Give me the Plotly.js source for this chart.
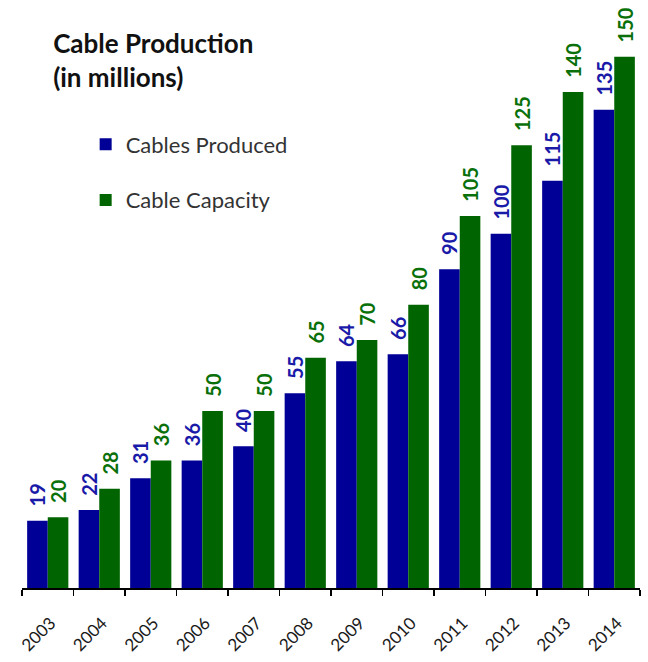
<!DOCTYPE html>
<html>
<head>
<meta charset="utf-8">
<script src="https://cdn.plot.ly/plotly-3.0.1.min.js"></script>
<style>html,body{margin:0;padding:0;background:#fff;}#chart{width:648px;height:662px;}</style>
</head>
<body>
<div id="chart"></div>
<script>
const years = ['2003','2004','2005','2006','2007','2008','2009','2010','2011','2012','2013','2014'];
const produced = [19, 22, 31, 36, 40, 55, 64, 66, 90, 100, 115, 135];
const capacity = [20, 28, 36, 50, 50, 65, 70, 80, 105, 125, 140, 150];

const blue = '#000096';
const green = '#006400';
const FONT = 'Lato, "Open Sans", sans-serif';
const pad = '\u2002\u200A';

const traces = [
  {
    type: 'bar', name: 'Cables Produced', x: years, y: produced,
    marker: {color: blue}, legendgroup: 'a',
    text: produced.map(v => pad + v), textposition: 'outside', textangle: -90,
    constraintext: 'none',
    textfont: {family: FONT, size: 20, color: '#1a1aa8', weight: 'bold'},
    cliponaxis: false, hoverinfo: 'x+y'
  },
  {
    type: 'bar', name: 'Cable Capacity', x: years, y: capacity,
    marker: {color: green}, legendgroup: 'b',
    text: capacity.map(v => pad + v), textposition: 'outside', textangle: -90,
    constraintext: 'none',
    textfont: {family: FONT, size: 20, color: '#0a700a', weight: 'bold'},
    cliponaxis: false, hoverinfo: 'x+y'
  }
];

const layout = {
  width: 648, height: 662,
  margin: {l: 22, r: 8, t: 0, b: 74},
  paper_bgcolor: '#fff', plot_bgcolor: '#fff',
  font: {family: FONT, color: '#222'},
  title: {
    text: '<b>Cable Production<br>(in millions)</b>',
    x: 0.082, xanchor: 'left', y: 0.92, yanchor: 'top',
    font: {family: FONT, size: 26, color: '#111'}
  },
  barmode: 'group', bargap: 0.2, bargroupgap: 0,
  showlegend: true,
  legend: {
    x: 0.103, y: 0.79, xanchor: 'left', yanchor: 'top',
    font: {family: FONT, size: 22, color: '#333'},
    traceorder: 'grouped', tracegroupgap: 24,
    bgcolor: 'rgba(0,0,0,0)', itemwidth: 30
  },
  xaxis: {
    type: 'category', tickson: 'boundaries', ticks: 'outside', ticklen: 6,
    tickcolor: '#000', tickwidth: 1.5,
    showline: true, linecolor: '#000', linewidth: 1.5,
    tickangle: -45, tickfont: {family: FONT, size: 17, color: '#1a1a1a'},
    ticklabelshift: 3, ticklabelstandoff: 17,
    showgrid: false, fixedrange: true
  },
  yaxis: {
    range: [0, 166], visible: false, showgrid: false, zeroline: false, fixedrange: true
  }
};

Plotly.newPlot('chart', traces, layout, {displayModeBar: false, staticPlot: true});
</script>
</body>
</html>
